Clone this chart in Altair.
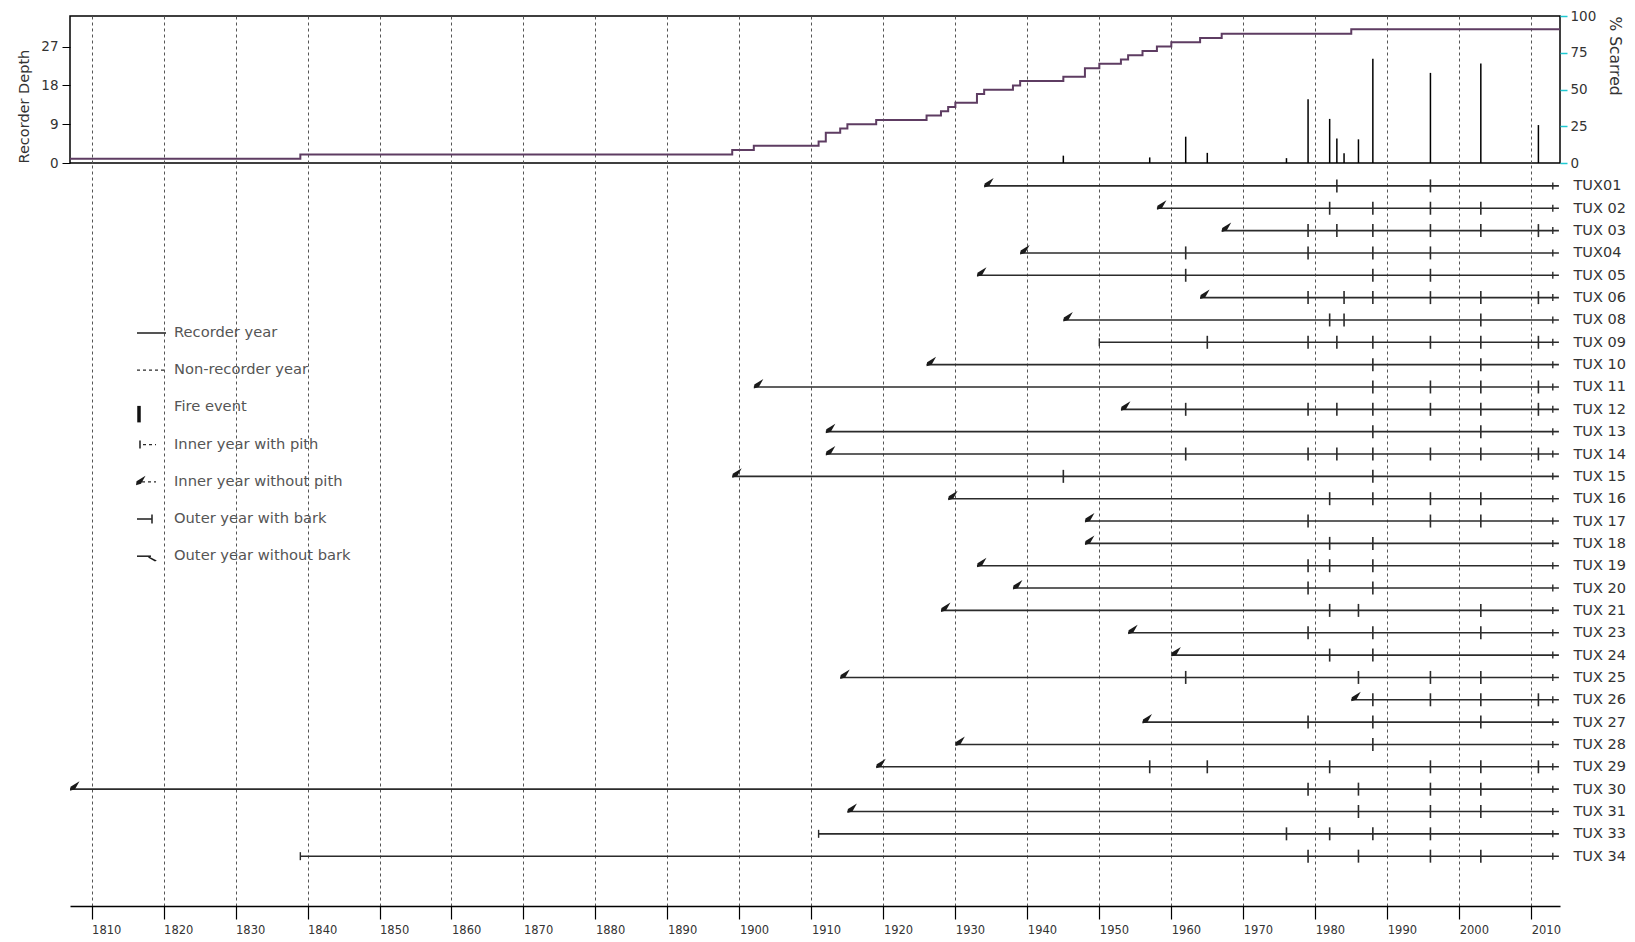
import altair as alt
import pandas as pd

# ---------------- data ----------------
sample_names = ["TUX01", "TUX 02", "TUX 03", "TUX04", "TUX 05", "TUX 06", "TUX 08", "TUX 09",
                "TUX 10", "TUX 11", "TUX 12", "TUX 13", "TUX 14", "TUX 15", "TUX 16", "TUX 17",
                "TUX 18", "TUX 19", "TUX 20", "TUX 21", "TUX 23", "TUX 24", "TUX 25", "TUX 26",
                "TUX 27", "TUX 28", "TUX 29", "TUX 30", "TUX 31", "TUX 33", "TUX 34"]
inner_years = [1934, 1958, 1967, 1939, 1933, 1964, 1945, 1950, 1926, 1902, 1953, 1912, 1912, 1899,
               1929, 1948, 1948, 1933, 1938, 1928, 1954, 1960, 1914, 1985, 1956, 1930, 1919, 1807,
               1915, 1911, 1839]
inner_has_pith = [False, False, False, False, False, False, False, True, False, False, False, False,
                  False, False, False, False, False, False, False, False, False, False, False, False,
                  False, False, False, False, False, True, True]
outer_years = [2013, 2013, 2013, 2013, 2013, 2013, 2013, 2013, 2013, 2013, 2013, 2013, 2013, 2013,
               2013, 2013, 2013, 2013, 2013, 2013, 2013, 2013, 2013, 2013, 2013, 2013, 2013, 2013,
               2013, 2013, 2013]
fire_scars = [
    [1983, 1996],
    [1982, 1988, 1996, 2003],
    [1979, 1983, 1988, 1996, 2003, 2011],
    [1962, 1979, 1988, 1996],
    [1962, 1988, 1996],
    [1979, 1984, 1988, 1996, 2003, 2011],
    [1982, 1984, 2003],
    [1965, 1979, 1983, 1988, 1996, 2003, 2011],
    [1988, 2003],
    [1988, 1996, 2003, 2011],
    [1962, 1979, 1983, 1988, 1996, 2003, 2011],
    [1988, 2003],
    [1962, 1979, 1983, 1988, 1996, 2003, 2011],
    [1945, 1988],
    [1982, 1988, 1996, 2003],
    [1979, 1996, 2003],
    [1982, 1988],
    [1979, 1982, 1988],
    [1979, 1988],
    [1982, 1986, 2003],
    [1979, 1988, 2003],
    [1982, 1988],
    [1962, 1986, 1996, 2003],
    [1988, 1996, 2003, 2011],
    [1979, 1988, 2003],
    [1988],
    [1957, 1965, 1982, 1996, 2003, 2011],
    [1979, 1986, 1996, 2003],
    [1986, 1996, 2003],
    [1976, 1982, 1988, 1996],
    [1979, 1986, 1996, 2003],
]
depth_years = [1807, 1839, 1899, 1902, 1911, 1912, 1914, 1915, 1919, 1926, 1928, 1929, 1930, 1933,
               1934, 1938, 1939, 1945, 1948, 1950, 1953, 1954, 1956, 1958, 1960, 1964, 1967, 1985, 2014]
depth_values = [1, 2, 3, 4, 5, 7, 8, 9, 10, 11, 12, 13, 14, 16, 17, 18, 19, 20, 22, 23, 24, 25, 26,
                27, 28, 29, 30, 31, 31]
scar_years = [1945, 1957, 1962, 1965, 1976, 1979, 1982, 1983, 1984, 1986, 1988, 1996, 2003, 2011]
pct_scarred = [5.0, 3.8, 17.9, 6.9, 3.3, 43.3, 30.0, 16.7, 6.7, 16.1, 71.0, 61.3, 67.7, 25.8]
decade_ticks = [1810, 1820, 1830, 1840, 1850, 1860, 1870, 1880, 1890, 1900, 1910, 1920, 1930,
                1940, 1950, 1960, 1970, 1980, 1990, 2000, 2010]
depth_ticks = [0, 9, 18, 27]
pct_ticks = [0, 25, 50, 75, 100]
legend_labels = ["Recorder year", "Non-recorder year", "Fire event", "Inner year with pith",
                 "Inner year without pith", "Outer year with bark", "Outer year without bark"]

# ---------------- styling / layout ----------------
FONT = "DejaVu Sans"
W = 1490
H_TOP = 147
H_BOT = 743
LINE_COL = "#2b2b2b"
GRID_COL = "#555555"
DEPTH_COL = "#5e3c62"
WEDGE = "M0,0.3L0.1,-0.5L1.9,-1.6L1.0,0Z"
HOOK = "M-1.2,0L-1.2,0.5L1.0,1.8L1.6,1.4Z"
VTICK = "M0,-1L0,1"

xscale = alt.Scale(domain=[1807, 2014], nice=False, zero=False)

# ---------------- top panel ----------------
top_x_axis = alt.Axis(values=decade_ticks, grid=True, gridDash=[3, 3], gridColor=GRID_COL,
                      gridWidth=1, labels=False, ticks=False, domain=False, title=None)

depth_df = pd.DataFrame({"year": depth_years, "depth": depth_values})
depth_line = alt.Chart(depth_df).mark_line(
    interpolate="step-after", color=DEPTH_COL, strokeWidth=2
).encode(
    x=alt.X("year:Q", scale=xscale, axis=top_x_axis),
    y=alt.Y("depth:Q", scale=alt.Scale(domain=[0, 34.1], nice=False, zero=True),
            axis=alt.Axis(orient="left", values=depth_ticks, title="Recorder Depth",
                          titleAnchor="start", titleFontSize=14.5, titleFont=FONT,
                          titleFontWeight="normal", titleColor="#333333", titlePadding=9,
                          labelFontSize=13.5, labelColor="#333333", labelPadding=4,
                          tickSize=8, tickColor="black", domain=False, grid=False,
                          labelFlush=False, labelOverlap=False)),
)

scar_df = pd.DataFrame({"year": scar_years, "pct": pct_scarred, "base": [0] * len(scar_years)})
scar_bars = alt.Chart(scar_df).mark_rule(color="black", strokeWidth=1.5).encode(
    x=alt.X("year:Q", scale=xscale, axis=top_x_axis),
    y=alt.Y("pct:Q", scale=alt.Scale(domain=[0, 100], nice=False),
            axis=alt.Axis(orient="right", values=pct_ticks, title="% Scarred",
                          titleAnchor="end", titleAlign="left", titleAngle=90,
                          titleFontSize=15.5, titleFont=FONT,
                          titleFontWeight="normal", titleColor="#333333", titlePadding=11,
                          labelFontSize=13.5, labelColor="#333333", labelPadding=3,
                          tickSize=7, tickColor="#1fc8d2", tickWidth=1.5, domain=False,
                          grid=False, labelFlush=False, labelOverlap=False)),
    y2="base:Q",
)

top = alt.layer(depth_line, scar_bars).resolve_scale(y="independent").properties(
    width=W, height=H_TOP, view=alt.ViewBackground(stroke="black", strokeWidth=1.5)
)

# ---------------- bottom panel ----------------
rows = list(range(len(sample_names)))
yscale = alt.Scale(domain=[-1.025, 32.23], reverse=True, nice=False, zero=False)
label_expr = "[" + ",".join("'%s'" % n for n in sample_names) + "][datum.value]"
row_axis = alt.Axis(orient="right", values=rows, labelExpr=label_expr, domain=False, ticks=False,
                    grid=False, labelPadding=13, labelFontSize=14.5, labelColor="#333333",
                    labelFont=FONT, title=None, labelOverlap=False, labelFlush=False)
bot_x_axis = alt.Axis(values=decade_ticks, grid=True, gridDash=[3, 3], gridColor=GRID_COL,
                      gridWidth=1, format="d", labelAlign="left", labelBaseline="top",
                      tickSize=13, tickColor="black", tickWidth=1.2,
                      domainColor="black", domainWidth=1.5, labelPadding=5, labelFontSize=11.5,
                      labelColor="#333333", title=None, labelFlush=False, labelOverlap=False)

X = lambda f: alt.X(f, scale=xscale, axis=bot_x_axis)
Y = lambda f: alt.Y(f, scale=yscale, axis=row_axis)

lines_df = pd.DataFrame({"row": rows, "start": inner_years,
                         "end": [o + 0.85 for o in outer_years]})
sample_lines = alt.Chart(lines_df).mark_rule(color=LINE_COL, strokeWidth=1.6).encode(
    x=X("start:Q"), x2="end:Q", y=Y("row:Q")
)

scar_rows, scar_yrs = [], []
for r, ys in zip(rows, fire_scars):
    for yv in ys:
        scar_rows.append(r)
        scar_yrs.append(yv)
scars_df = pd.DataFrame({"row": scar_rows, "year": scar_yrs})
scar_ticks = alt.Chart(scars_df).mark_point(
    shape=VTICK, size=169, filled=False, color=LINE_COL, strokeWidth=1.6, opacity=1
).encode(x=X("year:Q"), y=Y("row:Q"))

outer_df = pd.DataFrame({"row": rows, "year": outer_years})
outer_ticks = alt.Chart(outer_df).mark_point(
    shape=VTICK, size=49, filled=False, color=LINE_COL, strokeWidth=1.4, opacity=1
).encode(x=X("year:Q"), y=Y("row:Q"))

pith_df = pd.DataFrame({"row": [r for r in rows if inner_has_pith[r]],
                        "year": [inner_years[r] for r in rows if inner_has_pith[r]]})
pith_ticks = alt.Chart(pith_df).mark_point(
    shape=VTICK, size=64, filled=False, color=LINE_COL, strokeWidth=1.4, opacity=1
).encode(x=X("year:Q"), y=Y("row:Q"))

nopith_df = pd.DataFrame({"row": [r for r in rows if not inner_has_pith[r]],
                          "year": [inner_years[r] for r in rows if not inner_has_pith[r]]})
wedges = alt.Chart(nopith_df).mark_point(
    shape=WEDGE, size=100, filled=True, color="#1a1a1a", opacity=1, strokeWidth=0
).encode(x=X("year:Q"), y=Y("row:Q"))

# ---------------- legend (drawn in pixel space) ----------------
LX0, LX1, LTX = 67, 96, 104
ly = [170 + i * 37.2 for i in range(len(legend_labels))]
PX = lambda f: alt.X(f, scale=None)
PY = lambda f: alt.Y(f, scale=None)

leg_text = alt.Chart(pd.DataFrame({"label": legend_labels, "px": [LTX] * len(ly), "py": ly})).mark_text(
    align="left", baseline="middle", fontSize=14.7, font=FONT, color="#555555"
).encode(x=PX("px:Q"), y=PY("py:Q"), text="label:N")

solid_df = pd.DataFrame({
    "x": [LX0, 70, LX0, 82, LX0],
    "x2": [LX1, 70, 82, 82, 81],
    "y": [ly[0], ly[3] - 4, ly[5], ly[5] - 4.5, ly[6]],
    "y2": [ly[0], ly[3] + 4, ly[5], ly[5] + 4.5, ly[6]],
})
leg_solid = alt.Chart(solid_df).mark_rule(color=LINE_COL, strokeWidth=1.6).encode(
    x=PX("x:Q"), x2="x2:Q", y=PY("y:Q"), y2="y2:Q")

dash_df = pd.DataFrame({
    "x": [LX0, 73, 72],
    "x2": [LX1, 86, 86],
    "y": [ly[1], ly[3], ly[4]],
    "y2": [ly[1], ly[3], ly[4]],
})
leg_dash = alt.Chart(dash_df).mark_rule(color=LINE_COL, strokeWidth=1.2, strokeDash=[3, 3]).encode(
    x=PX("x:Q"), x2="x2:Q", y=PY("y:Q"), y2="y2:Q")

fire_df = pd.DataFrame({"x": [69], "y": [ly[2] - 1.5], "y2": [ly[2] + 15]})
leg_fire = alt.Chart(fire_df).mark_rule(color="#111111", strokeWidth=3.5).encode(
    x=PX("x:Q"), y=PY("y:Q"), y2="y2:Q")

wedge_df = pd.DataFrame({"x": [66], "y": [ly[4] + 2]})
leg_wedge = alt.Chart(wedge_df).mark_point(
    shape=WEDGE, size=100, filled=True, color="#1a1a1a", opacity=1, strokeWidth=0
).encode(x=PX("x:Q"), y=PY("y:Q"))

hook_df = pd.DataFrame({"x": [82], "y": [ly[6]]})
leg_hook = alt.Chart(hook_df).mark_point(
    shape=HOOK, size=36, filled=True, color="#1a1a1a", opacity=1, strokeWidth=0
).encode(x=PX("x:Q"), y=PY("y:Q"))

bottom = alt.layer(
    sample_lines, scar_ticks, outer_ticks, pith_ticks, wedges,
    leg_solid, leg_dash, leg_fire, leg_wedge, leg_hook, leg_text
).properties(width=W, height=H_BOT)

chart = alt.vconcat(top, bottom, spacing=0, bounds="flush").properties(
    padding={"left": 8, "top": 0, "right": 0, "bottom": 0}
).configure(font=FONT).configure_view(stroke=None)

chart.save("out.html", embed_options={"renderer": "svg", "actions": False})
